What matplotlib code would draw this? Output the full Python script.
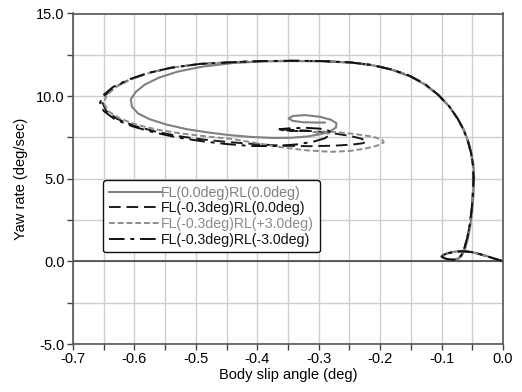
import matplotlib
matplotlib.use("Agg")
import matplotlib.pyplot as plt
from matplotlib.ticker import MultipleLocator

plt.rcParams['font.family'] = ['Liberation Sans', 'DejaVu Sans']

# Body slip angle (deg) / yaw rate (deg/sec) trajectories
labels = ["FL(0.0deg)RL(0.0deg)", "FL(-0.3deg)RL(0.0deg)",
          "FL(-0.3deg)RL(+3.0deg)", "FL(-0.3deg)RL(-3.0deg)"]

launch_x = [0, -0.01, -0.02, -0.03, -0.04, -0.05, -0.06, -0.07, -0.08, -0.09,
            -0.097, -0.1, -0.095, -0.087, -0.079, -0.073, -0.068, -0.063, -0.058,
            -0.054, -0.051, -0.049, -0.048, -0.049, -0.052, -0.057, -0.064, -0.074,
            -0.088, -0.106, -0.128, -0.153, -0.182, -0.213, -0.248, -0.293, -0.343,
            -0.393, -0.443, -0.493]
launch_y = [0, 0.12, 0.24, 0.35, 0.46, 0.55, 0.6, 0.61, 0.57, 0.49,
            0.39, 0.29, 0.18, 0.11, 0.1, 0.18, 0.37, 0.78, 1.45,
            2.25, 3.15, 4.15, 5.05, 5.85, 6.55, 7.25, 7.95, 8.65,
            9.4, 10.1, 10.75, 11.25, 11.62, 11.88, 12.04, 12.12, 12.14,
            12.12, 12.05, 11.95]

fl00_rl00_x = [0, -0.01, -0.02, -0.03, -0.04, -0.05, -0.06, -0.07, -0.08, -0.09,
               -0.097, -0.099, -0.094, -0.086, -0.078, -0.072, -0.067, -0.062, -0.057,
               -0.053, -0.050, -0.048, -0.047, -0.048, -0.051, -0.056, -0.063, -0.073,
               -0.087, -0.105, -0.127, -0.152, -0.18, -0.21, -0.245, -0.29, -0.34,
               -0.39, -0.44, -0.49, -0.53, -0.56, -0.583, -0.598, -0.606, -0.604,
               -0.594, -0.575, -0.548, -0.515, -0.48, -0.445, -0.41, -0.375, -0.345,
               -0.318, -0.297, -0.281, -0.272, -0.271, -0.28, -0.298, -0.322, -0.342,
               -0.349, -0.342, -0.325, -0.305, -0.29]
fl00_rl00_y = [0, 0.12, 0.24, 0.36, 0.47, 0.56, 0.61, 0.62, 0.58, 0.5,
               0.4, 0.3, 0.18, 0.1, 0.09, 0.17, 0.35, 0.75, 1.4,
               2.2, 3.1, 4.1, 5.0, 5.8, 6.5, 7.2, 7.9, 8.6,
               9.35, 10.05, 10.7, 11.2, 11.58, 11.85, 12.02, 12.1, 12.12,
               12.1, 12.0, 11.78, 11.48, 11.12, 10.7, 10.25, 9.8, 9.35,
               8.95, 8.6, 8.28, 8.0, 7.8, 7.64, 7.53, 7.47, 7.48,
               7.56, 7.7, 7.88, 8.1, 8.35, 8.57, 8.75, 8.85, 8.8,
               8.65, 8.5, 8.42, 8.4, 8.4]

fl03_rl00_x = launch_x + [-0.54, -0.577, -0.608, -0.632, -0.648, -0.652, -0.646, -0.628,
                          -0.6, -0.565, -0.527, -0.487, -0.447, -0.405, -0.36, -0.315,
                          -0.275, -0.245, -0.228, -0.222, -0.23, -0.25, -0.28, -0.31,
                          -0.34, -0.36, -0.352, -0.332]
fl03_rl00_y = launch_y + [11.72, 11.4, 11.0, 10.55, 10.05, 9.6, 9.1, 8.62,
                          8.2, 7.85, 7.57, 7.37, 7.22, 7.1, 7.0, 6.97,
                          7.0, 7.07, 7.15, 7.27, 7.42, 7.6, 7.77, 7.88,
                          7.95, 7.98, 7.92, 7.88]

fl03_rlp30_x = launch_x + [-0.54, -0.576, -0.606, -0.63, -0.645, -0.65, -0.643, -0.624,
                           -0.595, -0.56, -0.52, -0.48, -0.44, -0.4, -0.36, -0.32,
                           -0.28, -0.25, -0.225, -0.205, -0.194, -0.197, -0.213, -0.24,
                           -0.27, -0.295, -0.31, -0.3, -0.28]
fl03_rlp30_y = launch_y + [11.72, 11.4, 11.0, 10.55, 10.05, 9.6, 9.1, 8.65,
                           8.25, 7.95, 7.72, 7.55, 7.4, 7.15, 6.9, 6.72,
                           6.63, 6.68, 6.82, 7.0, 7.2, 7.38, 7.55, 7.7,
                           7.82, 7.86, 7.82, 7.76, 7.74]

fl03_rlm30_x = launch_x + [-0.54, -0.578, -0.61, -0.635, -0.651, -0.656, -0.65, -0.632,
                           -0.603, -0.568, -0.53, -0.49, -0.45, -0.41, -0.37, -0.335,
                           -0.308, -0.29, -0.28, -0.283, -0.298, -0.32, -0.345, -0.364,
                           -0.358, -0.338, -0.315]
fl03_rlm30_y = launch_y + [11.72, 11.4, 11.0, 10.55, 10.05, 9.6, 9.1, 8.6,
                           8.17, 7.8, 7.5, 7.27, 7.1, 6.98, 6.98, 7.08,
                           7.25, 7.45, 7.7, 7.9, 8.03, 8.08, 8.06, 8.0,
                           7.93, 7.9, 7.9]

x_ticks = [-0.7, -0.6, -0.5, -0.4, -0.3, -0.2, -0.1, 0.0]
y_ticks = [-5.0, 0.0, 5.0, 10.0, 15.0]

fig = plt.figure(figsize=(5.22, 3.92), dpi=100)
ax = fig.add_axes([73 / 522, 1 - 344 / 392, 430 / 522, 330.5 / 392])

ax.set_xlim(-0.7, 0.0)
ax.set_ylim(-5.0, 15.0)
ax.xaxis.set_minor_locator(MultipleLocator(0.05))
ax.yaxis.set_minor_locator(MultipleLocator(2.5))
ax.set_xticks(x_ticks)
ax.set_xticklabels([f"{v:.1f}" for v in x_ticks])
ax.set_yticks(y_ticks)
ax.set_yticklabels([f"{v:.1f}" for v in y_ticks])
ax.grid(True, which="both", color="#cfcfcf", linewidth=1.0)
ax.set_axisbelow(True)
ax.tick_params(which="both", direction="out", length=4, width=1,
               color="#444444", labelsize=10.5, pad=2)
for s in ax.spines.values():
    s.set_color("#555555")
    s.set_linewidth(1.2)

ax.axhline(0.0, color="#333333", linewidth=1.1, zorder=1.5)

ax.plot(fl00_rl00_x, fl00_rl00_y, color="#808080", linewidth=1.5,
        linestyle="-", label=labels[0])
ax.plot(fl03_rl00_x, fl03_rl00_y, color="#1a1a1a", linewidth=1.4,
        linestyle=(0, (6, 3)), label=labels[1])
ax.plot(fl03_rlp30_x, fl03_rlp30_y, color="#8c8c8c", linewidth=1.4,
        linestyle=(0, (3, 1.5)), label=labels[2])
ax.plot(fl03_rlm30_x, fl03_rlm30_y, color="#111111", linewidth=1.4,
        linestyle=(0, (8, 3, 2, 3)), label=labels[3])

ax.set_xlabel("Body slip angle (deg)", fontsize=10.5, labelpad=1)
ax.set_ylabel("Yaw rate (deg/sec)", fontsize=10.5, labelpad=6)

leg = ax.legend(loc="upper left", bbox_to_anchor=(30 / 430, (344 - 180) / 330.5),
                borderaxespad=0, fontsize=10.2, handlelength=3.7, handletextpad=0.0,
                labelspacing=0.12, borderpad=0.4, frameon=True, fancybox=True,
                framealpha=1.0)
leg.get_frame().set_edgecolor("#111111")
leg.get_frame().set_linewidth(1.0)
for txt, col in zip(leg.get_texts(), ["#808080", "#111111", "#8c8c8c", "#111111"]):
    txt.set_color(col)

fig.savefig("out.png", dpi=100)
